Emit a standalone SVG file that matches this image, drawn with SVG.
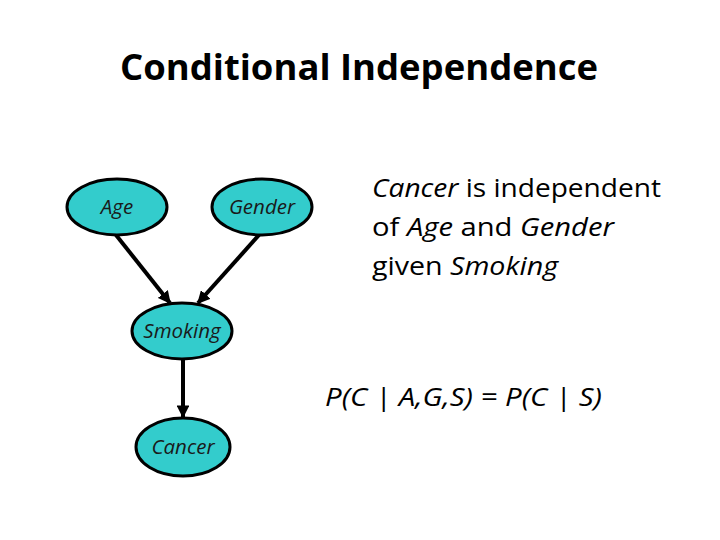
<svg xmlns="http://www.w3.org/2000/svg" width="720" height="540" viewBox="0 0 720 540">
<style>
.node{fill:#33CCCC;stroke:#000;stroke-width:3}
.lbl{font-family:"Open Sans","Liberation Sans",sans-serif;font-style:italic;font-size:20.5px;fill:#1a1a1a;text-anchor:middle}
.edge{stroke:#000;stroke-width:4;fill:none;marker-end:url(#arr)}
.txt{font-family:"Open Sans","Liberation Sans",sans-serif;font-size:25px;fill:#000}
.it{font-style:italic}
</style>
<defs>
<marker id="arr" viewBox="0 0 10 10" refX="9" refY="5" markerWidth="3.2" markerHeight="3.2" orient="auto" markerUnits="strokeWidth">
<path d="M0,0 L10,5 L0,10 z" fill="#000"/>
</marker>
</defs>
<rect width="720" height="540" fill="#fff"/>
<text x="359" y="80" font-family="'Open Sans','Liberation Sans',sans-serif" font-weight="bold" font-size="35" text-anchor="middle" textLength="478" lengthAdjust="spacingAndGlyphs">Conditional Independence</text>
<g id="connectors">
<line class="edge" x1="116" y1="235" x2="170" y2="303"/>
<line class="edge" x1="259" y1="235" x2="198" y2="303"/>
<line class="edge" x1="183" y1="360" x2="183" y2="417"/>
</g>
<g id="age"><ellipse class="node" cx="117" cy="207" rx="50" ry="28"/><text class="lbl" x="117" y="214">Age</text></g>
<g id="gender"><ellipse class="node" cx="262" cy="207" rx="50" ry="28"/><text class="lbl" x="262" y="214">Gender</text></g>
<g id="smoking"><ellipse class="node" cx="182" cy="331" rx="50" ry="28"/><text class="lbl" x="182" y="338">Smoking</text></g>
<g id="cancer"><ellipse class="node" cx="183" cy="447" rx="47" ry="29"/><text class="lbl" x="183" y="454">Cancer</text></g>
<g id="statement">
<text class="txt" x="372" y="197" textLength="289" lengthAdjust="spacingAndGlyphs"><tspan class="it">Cancer</tspan> is independent</text>
<text class="txt" x="372" y="236" textLength="242" lengthAdjust="spacingAndGlyphs">of <tspan class="it">Age</tspan> and <tspan class="it">Gender</tspan></text>
<text class="txt" x="372" y="275" textLength="186" lengthAdjust="spacingAndGlyphs">given <tspan class="it">Smoking</tspan></text>
<text class="txt it" x="325" y="406" textLength="277" lengthAdjust="spacingAndGlyphs">P(C | A,G,S) = P(C | S)</text>
</g>
</svg>
